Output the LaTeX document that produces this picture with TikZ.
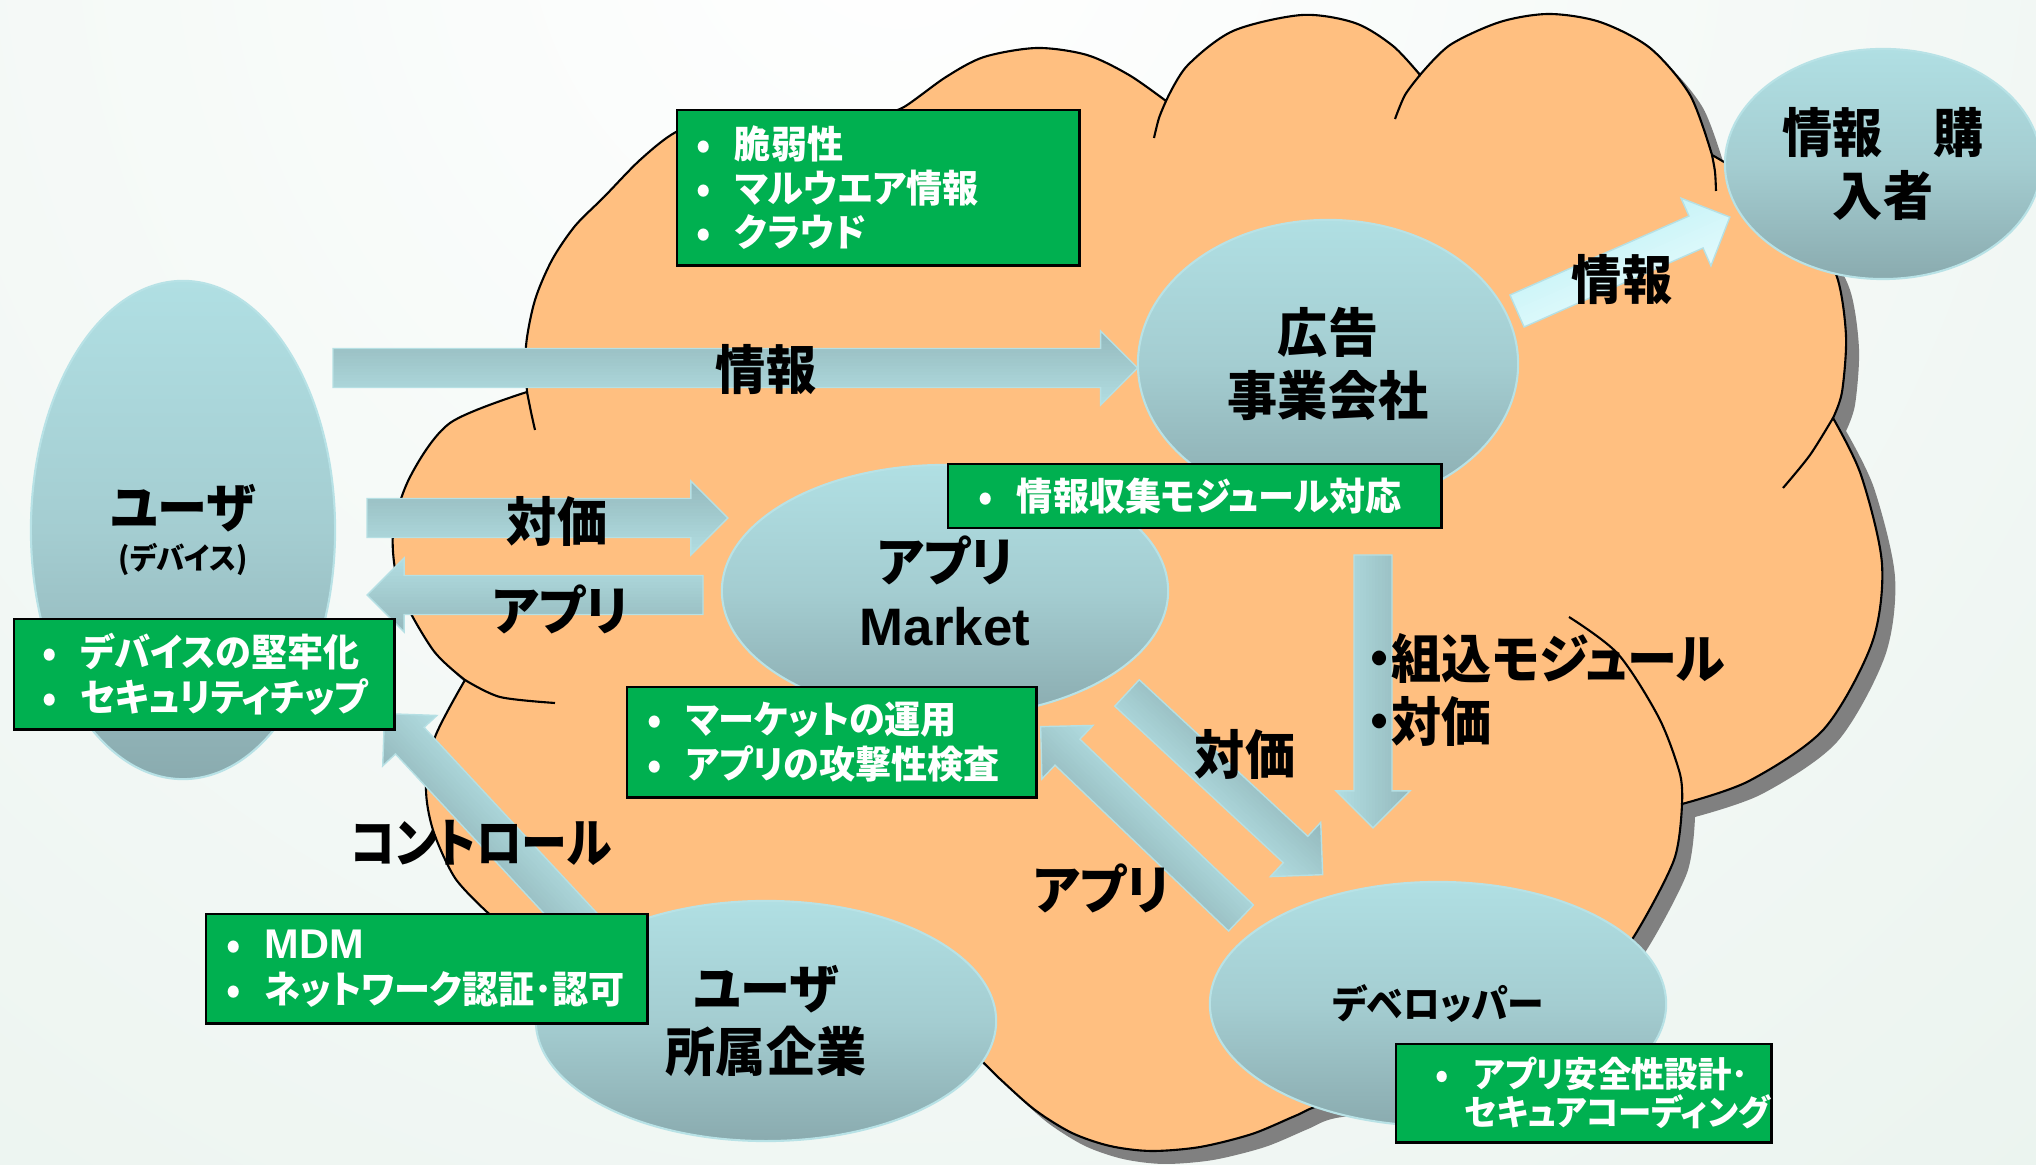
\documentclass[tikz,border=0pt]{standalone}
\usepackage{fontspec}
\setmainfont{Noto Sans CJK JP}[RawFeature=+palt,FakeStretch=0.95]
\newfontfamily\narrowjp{Noto Sans CJK JP}[RawFeature=+palt,FakeStretch=0.87]
\newfontfamily\latinbold{Liberation Sans}
\usetikzlibrary{shapes.geometric}

\definecolor{bggreen}{RGB}{220,235,227}
\definecolor{cloudfill}{RGB}{255,191,128}
\definecolor{cloudshadow}{RGB}{128,128,128}
\definecolor{enttop}{RGB}{176,223,227}
\definecolor{entmid}{RGB}{164,205,209}
\definecolor{entbot}{RGB}{138,171,175}
\definecolor{entline}{RGB}{184,226,230}
\definecolor{notegreen}{RGB}{0,176,80}
\definecolor{arrlight}{RGB}{178,222,226}
\definecolor{arrdark}{RGB}{146,182,186}
\definecolor{selllight}{RGB}{226,250,252}
\definecolor{selldark}{RGB}{198,243,247}
\definecolor{arredge}{RGB}{182,224,228}

\newcommand\bigtext{\fontsize{15}{18}\selectfont\bfseries}
\newcommand\notetext{\fontsize{10.8}{12.6}\selectfont\bfseries}
\newcommand\bul{\makebox[11pt][l]{•}}

% outline of the cloud (one plot per bump)
\newcommand\cloudpath{plot[smooth] coordinates {(527,392) (526,346) (535,300) (552,260) (575,226) (604,197) (640,160) (676,132) (720,118) (800,112) (880,115)}
  -- plot[smooth] coordinates {(880,115) (904,107) (946,77) (984,57) (1037,48) (1087,55) (1129,75) (1166,101)}
  -- plot[smooth] coordinates {(1166,101) (1187,66) (1233,31) (1302,15) (1355,23) (1393,46) (1420,75)}
  -- plot[smooth] coordinates {(1420,75) (1450,45) (1500,22) (1549,14) (1600,22) (1650,48) (1690,95) (1712,155)}
  -- plot[smooth] coordinates {(1712,155) (1760,185) (1810,230) (1837,277) (1846,336) (1842,392) (1833,418)}
  -- plot[smooth] coordinates {(1833,418) (1861,475) (1882,564) (1872,643) (1824,729) (1749,781) (1682,804)}
  -- plot[smooth] coordinates {(1682,804) (1674,860) (1633,938) (1600,975)}
  -- plot[smooth] coordinates {(1600,975) (1500,1060) (1400,1095) (1323,1105) (1295,1116) (1252,1134) (1200,1147) (1151,1151) (1110,1146) (1072,1133) (1035,1110) (1000,1079) (975,1055) (940,1030)}
  -- (850,1005) -- (700,985) -- (600,965) -- (520,940)
  -- plot[smooth] coordinates {(487,912) (455,878) (433,830) (426,787) (435,737) (465,680)}
  -- plot[smooth] coordinates {(465,680) (433,650) (400,590) (393,533) (410,477) (450,423) (527,392)}
  -- cycle}

% block arrow from #1 to #2, half body width #3, colours #4 (light) and #5 (dark)
\newcommand\blockarrow[5]{%
  \path (#1); \pgfgetlastxy{\barrxa}{\barrya}
  \path (#2); \pgfgetlastxy{\barrxb}{\barryb}
  \pgfmathsetmacro\barrang{atan2(\barryb-\barrya,\barrxb-\barrxa)}
  \pgfmathsetmacro\barrlen{veclen(\barrxb-\barrxa,\barryb-\barrya)/0.284528}
  \begin{scope}[shift={(#1)},rotate=\barrang,x=0.01cm,y=0.01cm]
    \begin{scope}
      \clip (0,-#3) -- (\barrlen-37,-#3) -- (\barrlen-37,-37) -- (\barrlen,0)
        -- (\barrlen-37,37) -- (\barrlen-37,#3) -- (0,#3) -- cycle;
      \foreach \k in {0,...,24} {
        \pgfmathtruncatemacro\barrmix{4*\k}
        \fill[#5!\barrmix!#4] (-2,{-38+3.1*\k}) rectangle ({\barrlen+2},{-34+3.1*\k});
      }
    \end{scope}
    \draw[arredge,line width=0.4pt] (0,-#3) -- (\barrlen-37,-#3) -- (\barrlen-37,-37) -- (\barrlen,0)
      -- (\barrlen-37,37) -- (\barrlen-37,#3) -- (0,#3) -- cycle;
  \end{scope}
}

\tikzset{
  entity/.style={ellipse,draw=entline,line width=0.6pt,top color=enttop,bottom color=entbot,middle color=entmid,inner sep=0pt,align=center,font=\bigtext},
  notebox/.style={draw=black,line width=0.7pt,fill=notegreen,text=white,font=\notetext,align=left,anchor=north west,inner ysep=0pt},
  tag/.style={font=\bigtext,align=center,inner sep=0pt},
  tick/.style={line width=0.6pt},
}

\begin{document}
\begin{tikzpicture}[x=0.01cm,y=-0.01cm]
  \useasboundingbox (0,0) rectangle (2036,1165);
  \fill[bggreen] (0,0) rectangle (2036,1165);
  \begin{scope}
    \clip (0,0) rectangle (2036,1165);
    \shade[inner color=white,outer color=bggreen] (900,-100) circle (3000);
  \end{scope}

  % cloud
  \fill[cloudshadow,shift={(13,13)}] \cloudpath;
  \draw[fill=cloudfill,line width=0.6pt] \cloudpath;
  \draw[tick] plot[smooth] coordinates {(527,392) (531,412) (535,430)};
  \draw[tick] plot[smooth] coordinates {(465,680) (500,697) (555,703)};
  \draw[tick] plot[smooth] coordinates {(1166,101) (1159,118) (1154,138)};
  \draw[tick] plot[smooth] coordinates {(1420,75) (1405,95) (1395,119)};
  \draw[tick] plot[smooth] coordinates {(1712,155) (1715,172) (1716,191)};
  \draw[tick] plot[smooth] coordinates {(1833,418) (1810,455) (1783,488)};
  \draw[tick] plot[smooth] coordinates {(1569,617) (1618,654) (1659,718) (1680,774) (1682,804)};

  % actors
  \node[entity,minimum width=3.04cm,minimum height=4.98cm] (user) at (183,530) {ユーザ\\[-6pt]{\fontsize{8.5}{10}\selectfont (デバイス)}};
  \node[entity,minimum width=3.16cm,minimum height=2.30cm] (buyer) at (1883,164) {情報　購\\入者};
  \node[entity,minimum width=3.80cm,minimum height=2.88cm] (adco) at (1328,364) {広告\\事業会社};
  \node[entity,minimum width=4.46cm,minimum height=2.52cm] (market) at (945,591) {アプリ\\{\latinbold Market}};
  \node[entity,minimum width=4.60cm,minimum height=2.40cm] (corp) at (766,1021) {ユーザ\\所属企業};
  \node[entity,minimum width=4.56cm,minimum height=2.44cm,font=\fontsize{11}{13}\selectfont\bfseries] (dev) at (1438,1004) {デベロッパー};

  % flows
  \coordinate (infoT) at (333,368);   \coordinate (infoH) at (1138,368);
  \coordinate (payT) at (367,518);    \coordinate (payH) at (728,518);
  \coordinate (appT) at (703,595);    \coordinate (appH) at (367,595);
  \coordinate (sellT) at (1517,311);  \coordinate (sellH) at (1730,217);
  \coordinate (modT) at (1373,555);   \coordinate (modH) at (1373,828);
  \coordinate (payDT) at (1127,693);  \coordinate (payDH) at (1323,875);
  \coordinate (appDT) at (1241,918);  \coordinate (appDH) at (1040,726);
  \coordinate (ctrlT) at (600,945);   \coordinate (ctrlH) at (384,713);
  \blockarrow{infoT}{infoH}{19.5}{arrlight}{arrdark}
  \blockarrow{payT}{payH}{19.5}{arrlight}{arrdark}
  \blockarrow{appT}{appH}{19.5}{arrlight}{arrdark}
  \blockarrow{sellT}{sellH}{17.5}{selllight}{selldark}
  \blockarrow{modT}{modH}{19}{arrlight}{arrdark}
  \blockarrow{payDT}{payDH}{18}{arrlight}{arrdark}
  \blockarrow{appDT}{appDH}{18}{arrlight}{arrdark}
  \blockarrow{ctrlT}{ctrlH}{19.5}{arrlight}{arrdark}

  % notes
  \node[notebox,text width=3.64cm,inner xsep=0.19cm,minimum height=1.55cm] (vulnNote) at (676,109) {\bul 脆弱性\\\bul マルウエア情報\\\bul クラウド};
  \node[notebox,text width=4.33cm,inner xsep=0.30cm,minimum height=0.64cm] (adNote) at (947,463) {\bul 情報収集モジュール対応};
  \node[notebox,text width=3.24cm,inner xsep=0.28cm,minimum height=1.10cm] (userNote) at (13,618) {\bul デバイスの堅牢化\\\bul セキュリティチップ};
  \node[notebox,text width=3.69cm,inner xsep=0.20cm,minimum height=1.10cm] (marketNote) at (626,686) {\bul マーケットの運用\\\bul アプリの攻撃性検査};
  \node[notebox,text width=4.01cm,inner xsep=0.20cm,minimum height=1.09cm] (corpNote) at (205,913) {\bul {\latinbold\fontsize{11.8}{12.6}\selectfont MDM}\\\bul ネットワーク認証･認可};
  \node[notebox,text width=2.97cm,inner xsep=0.39cm,minimum height=0.98cm,font=\fontsize{10}{10.8}\selectfont\bfseries] (devNote) at (1395,1043) {\bul アプリ安全性設計･\\\hspace*{8.4pt}セキュアコーディング};

  % flow labels
  \node[tag] (infoLbl) at (766,370) {情報};
  \node[tag] (payLbl) at (557,521) {対価};
  \node[tag] (appLbl) at (560,609) {アプリ};
  \node[tag] (sellLbl) at (1622,280) {情報};
  \node[tag,align=left,anchor=west] (modLbl) at (1366,690) {・組込モジュール\\・対価};
  \node[tag] (payDLbl) at (1245,754) {対価};
  \node[tag] (appDLbl) at (1101,888) {アプリ};
  \node[tag,font=\bigtext\narrowjp] (ctrlLbl) at (481,843) {コントロール};
\end{tikzpicture}
\end{document}
